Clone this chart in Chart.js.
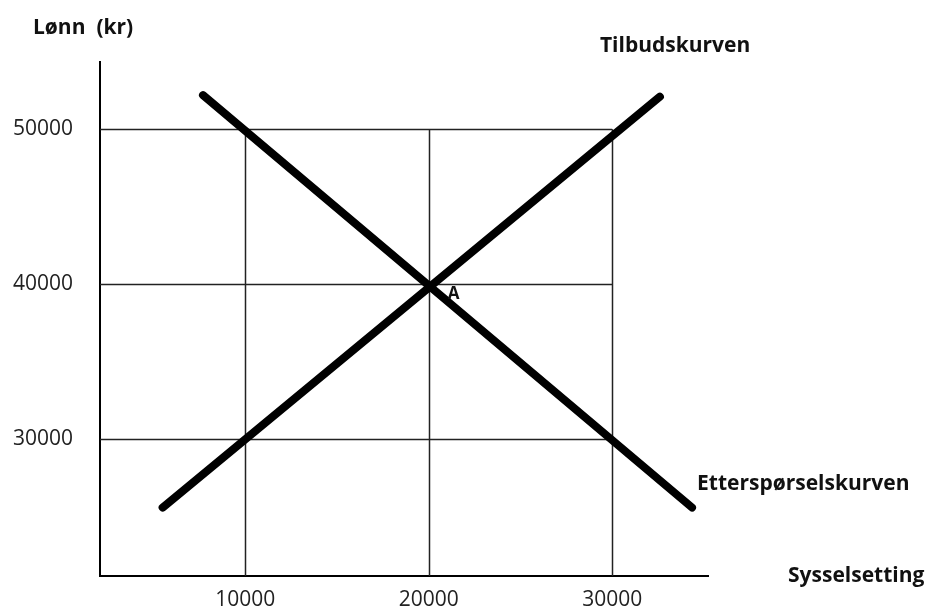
<!DOCTYPE html>
<html>
<head>
<meta charset="utf-8">
<script src="https://cdn.jsdelivr.net/npm/chart.js@4/dist/chart.umd.min.js"></script>
<style>
  body { margin: 0; background: #fff; }
</style>
</head>
<body>
<canvas id="chart" width="926" height="609"></canvas>
<script>
// tick values on the axes
const xTicks = [10000, 20000, 30000];
const yTicks = [30000, 40000, 50000];

// supply curve (Tilbudskurven), two end points
const supplyX = [5500, 32600];
const supplyY = [25600, 52100];

// demand curve (Etterspørselskurven), two end points
const demandX = [7700, 34350];
const demandY = [52200, 25600];

// equilibrium point A
const pointA = [20000, 40000];

const toPoints = (xs, ys) => xs.map((x, i) => ({ x: x, y: ys[i] }));

const labelFont = 'bold 21px "Open Sans"';

// grid only inside the drawn box, plus the text labels
const sketchPlugin = {
  id: "sketch",
  beforeDatasetsDraw(chart) {
    const { ctx, scales } = chart;
    const x = scales.x, y = scales.y;
    const xEnd = x.getPixelForValue(xTicks[xTicks.length - 1]);
    const yTop = y.getPixelForValue(yTicks[yTicks.length - 1]);
    ctx.save();
    ctx.strokeStyle = "#222";
    ctx.lineWidth = 1.5;
    ctx.beginPath();
    yTicks.forEach(v => {
      const py = Math.round(y.getPixelForValue(v)) + 0.5;
      ctx.moveTo(x.left, py);
      ctx.lineTo(xEnd, py);
    });
    xTicks.forEach(v => {
      const px = Math.round(x.getPixelForValue(v)) + 0.5;
      ctx.moveTo(px, yTop);
      ctx.lineTo(px, y.bottom);
    });
    ctx.stroke();
    ctx.restore();
  },
  afterDraw(chart) {
    const { ctx, scales, chartArea } = chart;
    const x = scales.x, y = scales.y;
    ctx.save();
    ctx.fillStyle = "#111";
    ctx.textBaseline = "alphabetic";
    ctx.textAlign = "left";
    ctx.font = labelFont;

    ctx.fillText("Lønn  (kr)", chartArea.left - 67, chartArea.top - 28);
    ctx.fillText("Sysselsetting", chartArea.right + 80, chartArea.bottom + 6);

    const sTop = x.getPixelForValue(supplyX[1]);
    const sTopY = y.getPixelForValue(supplyY[1]);
    ctx.fillText("Tilbudskurven", sTop - 60, sTopY - 45);

    const dEnd = x.getPixelForValue(demandX[1]);
    const dEndY = y.getPixelForValue(demandY[1]);
    ctx.fillText("Etterspørselskurven", dEnd + 5, dEndY - 18);

    ctx.font = 'bold 17px "Open Sans"';
    ctx.fillText("A", x.getPixelForValue(pointA[0]) + 19, y.getPixelForValue(pointA[1]) + 15);
    ctx.restore();
  }
};

const curveStyle = {
  borderColor: "#000",
  borderWidth: 8,
  borderCapStyle: "round",
  pointRadius: 0,
  showLine: true,
  fill: false
};

new Chart(document.getElementById("chart"), {
  type: "scatter",
  data: {
    datasets: [
      Object.assign({ label: "Tilbudskurven", data: toPoints(supplyX, supplyY) }, curveStyle),
      Object.assign({ label: "Etterspørselskurven", data: toPoints(demandX, demandY) }, curveStyle)
    ]
  },
  options: {
    responsive: false,
    animation: false,
    layout: { padding: { left: 10, top: 62, right: 218, bottom: 0 } },
    plugins: {
      legend: { display: false },
      tooltip: { enabled: false }
    },
    scales: {
      x: {
        type: "linear",
        min: 2087,
        max: 35221,
        afterBuildTicks: s => { s.ticks = xTicks.map(v => ({ value: v })); },
        afterFit: s => { s.height = 33; },
        grid: { display: false, drawTicks: false },
        border: { display: true, color: "#000", width: 2 },
        ticks: {
          padding: 11,
          color: "#222",
          font: { family: "Open Sans", size: 21 },
          callback: v => String(v)
        }
      },
      y: {
        type: "linear",
        min: 21185,
        max: 54338,
        afterBuildTicks: s => { s.ticks = yTicks.map(v => ({ value: v })); },
        afterFit: s => { s.width = 90; },
        // label gap comes from the (hidden) tick length so it does not pad the chart area
        grid: { display: false, drawTicks: true, tickLength: 27 },
        border: { display: true, color: "#000", width: 2 },
        ticks: {
          padding: 0,
          color: "#222",
          font: { family: "Open Sans", size: 21 },
          callback: v => String(v)
        }
      }
    }
  },
  plugins: [sketchPlugin]
});
</script>
</body>
</html>
